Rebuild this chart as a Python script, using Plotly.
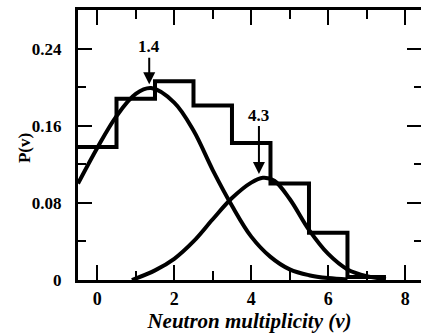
import plotly.graph_objects as go

# Histogram: neutron multiplicity bins (centers) and probabilities
bin_centers = [0, 1, 2, 3, 4, 5, 6, 7]
bin_values = [0.138, 0.188, 0.206, 0.181, 0.142, 0.100, 0.049, 0.003]

# Curve 1 (peak near 1.4)
c1_x = [-0.5, 0.0, 0.5, 1.0, 1.4, 2.0, 2.5, 3.0, 3.5, 4.0, 4.5, 5.0, 5.5, 6.0, 6.5]
c1_y = [0.100, 0.137, 0.170, 0.193, 0.199, 0.184, 0.155, 0.114, 0.077, 0.045, 0.024, 0.011, 0.005, 0.002, 0.0005]

# Curve 2 (peak near 4.3)
c2_x = [0.9, 1.5, 2.0, 2.5, 3.0, 3.5, 4.0, 4.3, 4.6, 5.0, 5.5, 6.0, 6.5, 7.0, 7.5]
c2_y = [0.0, 0.010, 0.022, 0.040, 0.063, 0.085, 0.101, 0.106, 0.103, 0.084, 0.052, 0.027, 0.011, 0.004, 0.001]

x_ticks = [0, 2, 4, 6, 8]
y_ticks = [0, 0.08, 0.16, 0.24]
y_ticklabels = ["0", "0.08", "0.16", "0.24"]

peak_labels = ["1.4", "4.3"]

# Step outline from bins
step_x = [c - 0.5 for c in bin_centers] + [bin_centers[-1] + 0.5]
step_y = bin_values + [bin_values[-1]]

FONT = "Liberation Serif"
LW = 4

fig = go.Figure()
fig.add_trace(go.Scatter(x=step_x, y=step_y, mode="lines",
                         line=dict(shape="hv", color="black", width=LW),
                         hoverinfo="skip"))
fig.add_trace(go.Scatter(x=c1_x, y=c1_y, mode="lines",
                         line=dict(shape="spline", smoothing=1.0, color="black", width=LW),
                         hoverinfo="skip"))
fig.add_trace(go.Scatter(x=c2_x, y=c2_y, mode="lines",
                         line=dict(shape="spline", smoothing=1.0, color="black", width=LW),
                         hoverinfo="skip"))
# invisible trace to materialise the right-hand tick axis
fig.add_trace(go.Scatter(x=[None], y=[None], yaxis="y2", mode="lines",
                         hoverinfo="skip", showlegend=False))

# arrows with labels
fig.add_annotation(x=1.35, y=0.203, ax=1.35, ay=0.242, axref="x", ayref="y",
                   text="<b>" + peak_labels[0] + "</b>", showarrow=True,
                   arrowhead=2, arrowsize=1.2, arrowwidth=2, arrowcolor="black",
                   font=dict(family=FONT, size=17, color="black"))
fig.add_annotation(x=4.2, y=0.110, ax=4.2, ay=0.171, axref="x", ayref="y",
                   text="<b>" + peak_labels[1] + "</b>", showarrow=True,
                   arrowhead=2, arrowsize=1.2, arrowwidth=2, arrowcolor="black",
                   font=dict(family=FONT, size=17, color="black"))

# y title
fig.add_annotation(x=-0.19, y=0.49, xref="paper", yref="paper",
                   text="<b>P(v)</b>", textangle=-90, showarrow=False,
                   font=dict(family=FONT, size=17, color="black"))

fig.update_layout(
    xaxis=dict(range=[-0.5, 8.41], tickvals=x_ticks, ticktext=[str(v) for v in x_ticks],
               showline=True, linecolor="black", linewidth=3, mirror="ticks",
               ticks="inside", ticklen=15, tickwidth=2, tickcolor="black",
               minor=dict(ticks="inside", ticklen=9, tickwidth=2, dtick=1, tick0=0, tickcolor="black"),
               showgrid=False, zeroline=False,
               tickfont=dict(family=FONT, size=18, color="black", weight="bold"),
               title=dict(text="<i><b>Neutron multiplicity (v)</b></i>", standoff=2,
                          font=dict(family=FONT, size=21, color="black"))),
    yaxis=dict(range=[0, 0.28], tickvals=y_ticks, ticktext=y_ticklabels,
               showline=True, linecolor="black", linewidth=3, mirror=False,
               ticks="inside", ticklen=14, tickwidth=2, tickcolor="black",
               minor=dict(ticks="inside", ticklen=8, tickwidth=2, dtick=0.04, tick0=0, tickcolor="black"),
               showgrid=False, zeroline=False, ticklabelstandoff=10,
               tickfont=dict(family=FONT, size=17, color="black", weight="bold")),
    yaxis2=dict(range=[0, 0.28], overlaying="y", side="right", tickvals=y_ticks,
                showticklabels=False, showline=False, showgrid=False, zeroline=False,
                ticks="inside", ticklen=14, tickwidth=2, tickcolor="black",
                minor=dict(ticks="inside", ticklen=7, tickwidth=2, dtick=0.04, tick0=0, tickcolor="black")),
    width=421, height=333, margin=dict(l=78, r=0, t=10, b=53),
    plot_bgcolor="white", paper_bgcolor="white", showlegend=False)

fig.write_html("out.html")
